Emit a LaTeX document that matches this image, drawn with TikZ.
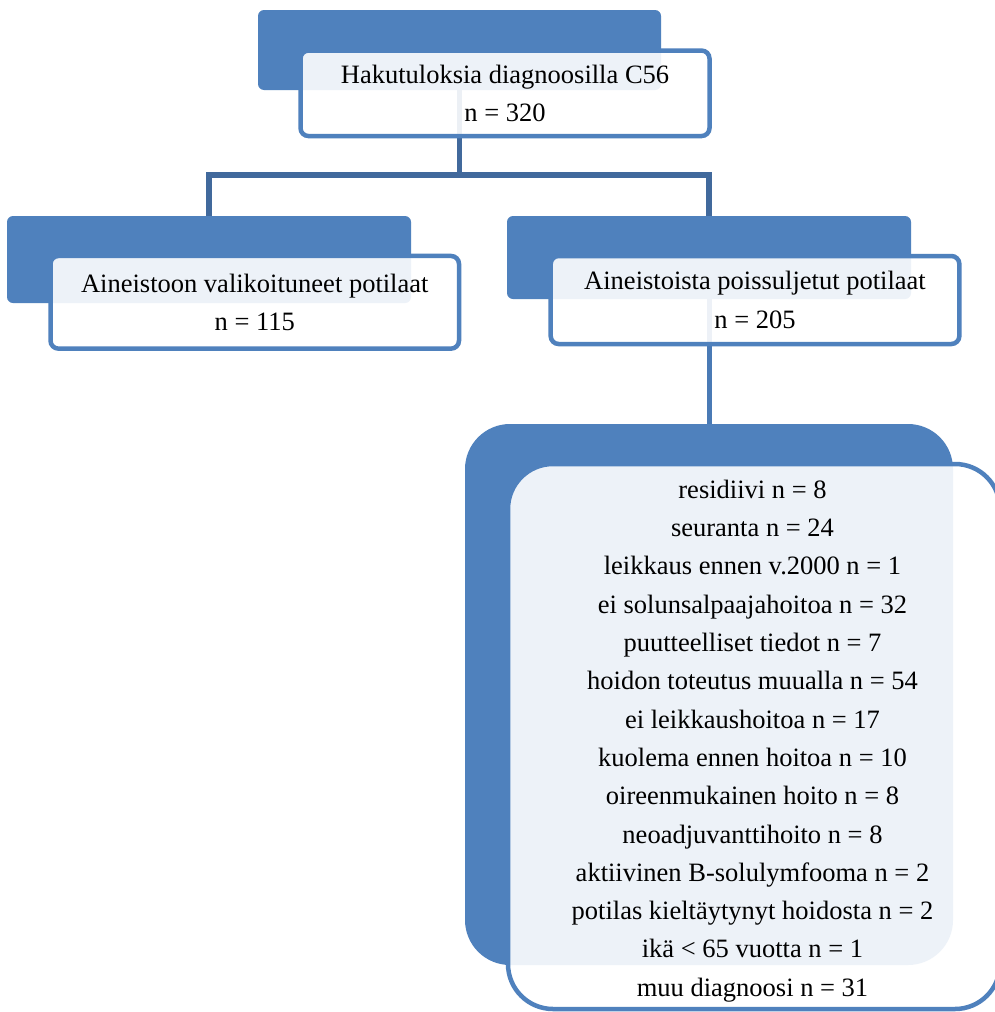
\documentclass[tikz,border=0pt]{standalone}
\usepackage{fontspec}
\setmainfont{Liberation Serif}
\definecolor{boxblue}{HTML}{4F81BD}
\definecolor{treeblue}{HTML}{41699C}
\definecolor{linkblue}{HTML}{4A7AB5}
\begin{document}
\begin{tikzpicture}[x=1pt,y=-1pt,
  backbox/.style={rectangle, fill=boxblue, inner sep=0pt, outer sep=0pt, rounded corners=6pt},
  frontbox/.style={rectangle, draw=boxblue, line width=4.5pt, fill=white, fill opacity=0.9, text opacity=1,
    inner sep=0pt, outer sep=0pt, rounded corners=8pt, align=center,
    font=\fontsize{26.5}{38.4}\selectfont},
  listtext/.style={align=center, inner sep=0pt, font=\fontsize{26.5}{38.3}\selectfont},
  treeline/.style={draw=treeblue, line width=5.5pt},
  linkline/.style={draw=linkblue, line width=5pt}]
\useasboundingbox[fill=white] (0,0) rectangle (995,1012);
% back boxes
\node[backbox, minimum width=403pt, minimum height=80pt] (topback) at (459.5,50) {};
\node[backbox, minimum width=404pt, minimum height=87pt] (leftback) at (209,259.5) {};
\node[backbox, minimum width=404pt, minimum height=83pt] (rightback) at (709,257.5) {};
\node[backbox, rounded corners=45pt, minimum width=488pt, minimum height=541pt] (bottomback) at (709,694.5) {};
% connectors
\coordinate (junction) at (459.5,175);
\draw[treeline] (topback.south) -- (junction);
\draw[treeline] (leftback.north) |- (junction);
\draw[treeline] (rightback.north) |- (junction);
\draw[linkline] (rightback.south) -- (bottomback.north);
% front boxes
\node[frontbox, minimum width=409pt, minimum height=85.5pt] (topfront) at (505,93.3)
  {Hakutuloksia diagnoosilla C56\\ n = 320};
\node[frontbox, minimum width=408.5pt, minimum height=92.7pt] (leftfront) at (254.75,302.3)
  {Aineistoon valikoituneet potilaat\\ n = 115};
\node[frontbox, minimum width=408.7pt, minimum height=88pt] (rightfront) at (755,300)
  {Aineistoista poissuljetut potilaat\\ n = 205};
\node[frontbox, rounded corners=45pt, minimum width=492pt, minimum height=545pt] (bottomfront) at (754,736.5) {};
\node[listtext] (bottomtext) at (752.5,741)
  {residiivi n = 8\\
   seuranta n = 24\\
   leikkaus ennen v.2000 n = 1\\
   ei solunsalpaajahoitoa n = 32\\
   puutteelliset tiedot n = 7\\
   hoidon toteutus muualla n = 54\\
   ei leikkaushoitoa n = 17\\
   kuolema ennen hoitoa n = 10\\
   oireenmukainen hoito n = 8\\
   neoadjuvanttihoito n = 8\\
   aktiivinen B-solulymfooma n = 2\\
   potilas kieltäytynyt hoidosta n = 2\\
   ikä < 65 vuotta n = 1\\
   muu diagnoosi n = 31};
\end{tikzpicture}
\end{document}
